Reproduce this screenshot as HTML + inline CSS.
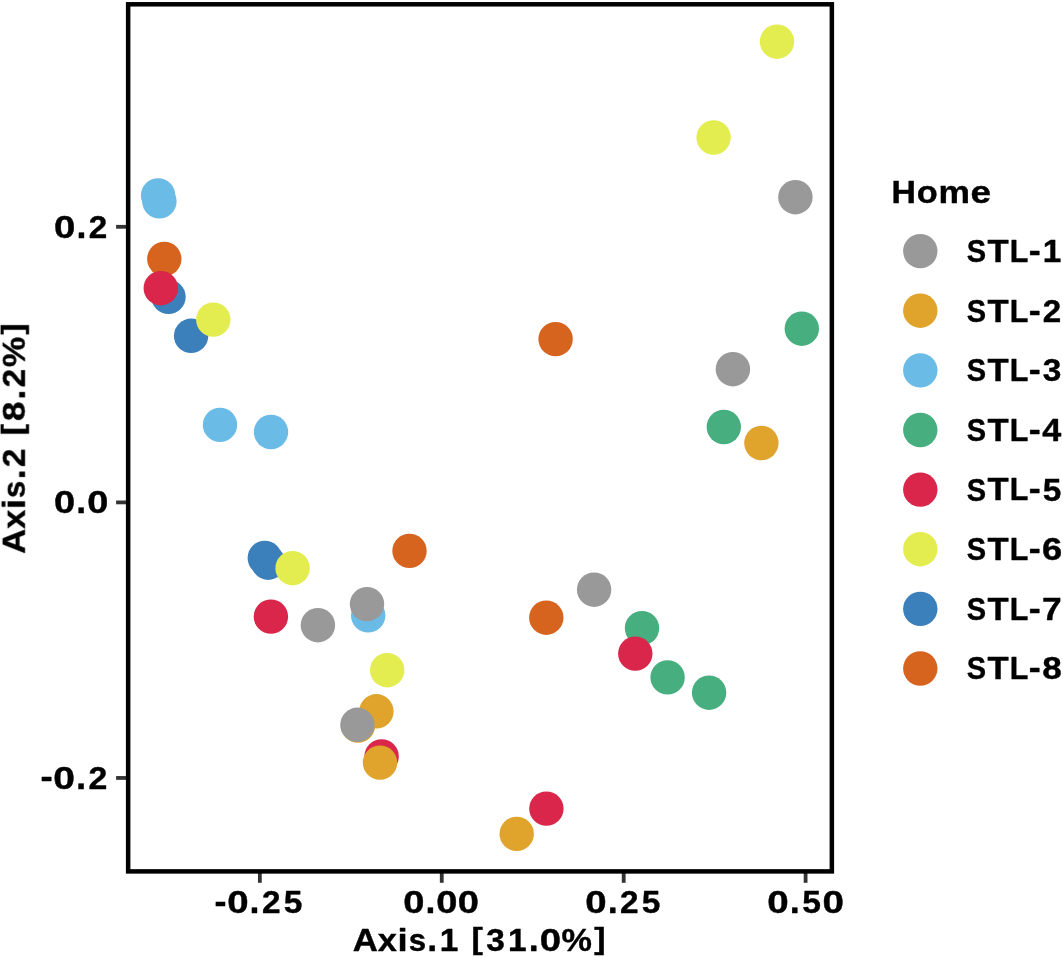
<!DOCTYPE html>
<html lang="en">
<head>
<meta charset="utf-8">
<title>PCoA by Home</title>
<style>
html,body{margin:0;padding:0;background:#fff;}
body{width:1063px;height:957px;overflow:hidden;}
svg{display:block;will-change:transform;}
text{font-family:"Liberation Sans",sans-serif;font-weight:bold;fill:#000;stroke:#000;stroke-width:0.4px;stroke-linejoin:round;}
.tick{stroke:#333;stroke-width:3.8;}
</style>
</head>
<body>
<svg width="1063" height="957" viewBox="0 0 1063 957">
<defs><filter id="soft" filterUnits="userSpaceOnUse" x="0" y="0" width="1063" height="957" color-interpolation-filters="sRGB"><feGaussianBlur stdDeviation="0.33"/></filter></defs>
<rect x="0" y="0" width="1063" height="957" fill="#fff"/>
<g filter="url(#soft)">
<rect x="-5" y="-5" width="1073" height="967" fill="#fff"/>

<g class="tick">
<line x1="259.85" y1="873" x2="259.85" y2="882.8"/>
<line x1="441.75" y1="873" x2="441.75" y2="882.8"/>
<line x1="623.70" y1="873" x2="623.70" y2="882.8"/>
<line x1="805.60" y1="873" x2="805.60" y2="882.8"/>
<line x1="116.1" y1="226.80" x2="126.5" y2="226.80"/>
<line x1="116.1" y1="502.40" x2="126.5" y2="502.40"/>
<line x1="116.1" y1="777.95" x2="126.5" y2="777.95"/>
</g>
<g>
<circle cx="158.1" cy="195.4" r="17.2" fill="#6BBBE7"/>
<circle cx="159.4" cy="201.4" r="17.2" fill="#6BBBE7"/>
<circle cx="164.3" cy="259.0" r="17.2" fill="#D7641E"/>
<circle cx="168.5" cy="296.8" r="17.2" fill="#3B7FBB"/>
<circle cx="160.8" cy="288.2" r="17.2" fill="#D9264A"/>
<circle cx="191.1" cy="335.8" r="17.2" fill="#3B7FBB"/>
<circle cx="213.3" cy="319.6" r="17.2" fill="#E4ED4F"/>
<circle cx="220.0" cy="424.9" r="17.2" fill="#6BBBE7"/>
<circle cx="271.0" cy="432.0" r="17.2" fill="#6BBBE7"/>
<circle cx="264.8" cy="557.9" r="17.2" fill="#3B7FBB"/>
<circle cx="268.2" cy="562.7" r="17.2" fill="#3B7FBB"/>
<circle cx="292.6" cy="568.2" r="17.2" fill="#E4ED4F"/>
<circle cx="270.9" cy="616.6" r="17.2" fill="#D9264A"/>
<circle cx="317.9" cy="625.2" r="17.2" fill="#999999"/>
<circle cx="368.2" cy="615.4" r="17.2" fill="#6BBBE7"/>
<circle cx="367.0" cy="604.1" r="17.2" fill="#999999"/>
<circle cx="409.5" cy="550.9" r="17.2" fill="#D7641E"/>
<circle cx="387.2" cy="670.2" r="17.2" fill="#E4ED4F"/>
<circle cx="376.4" cy="711.3" r="17.2" fill="#E0A32C"/>
<circle cx="358.0" cy="725.5" r="17.2" fill="#E0A32C"/>
<circle cx="357.4" cy="724.8" r="17.2" fill="#999999"/>
<circle cx="381.6" cy="756.4" r="17.2" fill="#D9264A"/>
<circle cx="380.0" cy="762.6" r="17.2" fill="#E0A32C"/>
<circle cx="516.7" cy="833.9" r="17.2" fill="#E0A32C"/>
<circle cx="546.4" cy="808.6" r="17.2" fill="#D9264A"/>
<circle cx="546.3" cy="617.7" r="17.2" fill="#D7641E"/>
<circle cx="594.1" cy="589.7" r="17.2" fill="#999999"/>
<circle cx="642.0" cy="628.1" r="17.2" fill="#47AF7F"/>
<circle cx="635.3" cy="653.6" r="17.2" fill="#D9264A"/>
<circle cx="667.6" cy="677.4" r="17.2" fill="#47AF7F"/>
<circle cx="709.1" cy="692.7" r="17.2" fill="#47AF7F"/>
<circle cx="555.6" cy="339.1" r="17.2" fill="#D7641E"/>
<circle cx="732.9" cy="369.2" r="17.2" fill="#999999"/>
<circle cx="723.8" cy="427.0" r="17.2" fill="#47AF7F"/>
<circle cx="761.4" cy="443.0" r="17.2" fill="#E0A32C"/>
<circle cx="801.8" cy="328.7" r="17.2" fill="#47AF7F"/>
<circle cx="795.4" cy="197.2" r="17.2" fill="#999999"/>
<circle cx="713.6" cy="137.5" r="17.2" fill="#E4ED4F"/>
<circle cx="777.0" cy="41.7" r="17.2" fill="#E4ED4F"/>
</g>
<rect x="128.15" y="4.3" width="703.7" height="867.1" fill="none" stroke="#000" stroke-width="4.5"/>
<text xml:space="preserve"><tspan x="214.59" y="912.68" font-size="32.90" textLength="11.99" lengthAdjust="spacingAndGlyphs">-</tspan><tspan x="227.19" y="912.82" font-size="31.91" textLength="21.36" lengthAdjust="spacingAndGlyphs">0</tspan><tspan x="249.60" y="912.70" font-size="35.89" textLength="9.98" lengthAdjust="spacingAndGlyphs">.</tspan><tspan x="261.99" y="912.70" font-size="31.74" textLength="18.57" lengthAdjust="spacingAndGlyphs">2</tspan><tspan x="283.70" y="912.82" font-size="31.81" textLength="18.64" lengthAdjust="spacingAndGlyphs">5</tspan></text>
<text xml:space="preserve"><tspan x="403.19" y="912.82" font-size="31.91" textLength="21.19" lengthAdjust="spacingAndGlyphs">0</tspan><tspan x="425.43" y="912.70" font-size="35.89" textLength="9.89" lengthAdjust="spacingAndGlyphs">.</tspan><tspan x="436.39" y="912.82" font-size="31.91" textLength="21.19" lengthAdjust="spacingAndGlyphs">0</tspan><tspan x="457.87" y="912.82" font-size="31.91" textLength="21.19" lengthAdjust="spacingAndGlyphs">0</tspan></text>
<text xml:space="preserve"><tspan x="585.38" y="912.82" font-size="31.91" textLength="21.34" lengthAdjust="spacingAndGlyphs">0</tspan><tspan x="607.77" y="912.70" font-size="35.89" textLength="9.97" lengthAdjust="spacingAndGlyphs">.</tspan><tspan x="620.13" y="912.70" font-size="31.74" textLength="18.55" lengthAdjust="spacingAndGlyphs">2</tspan><tspan x="641.82" y="912.82" font-size="31.81" textLength="18.61" lengthAdjust="spacingAndGlyphs">5</tspan></text>
<text xml:space="preserve"><tspan x="767.28" y="912.82" font-size="31.91" textLength="21.43" lengthAdjust="spacingAndGlyphs">0</tspan><tspan x="789.76" y="912.70" font-size="35.89" textLength="10.01" lengthAdjust="spacingAndGlyphs">.</tspan><tspan x="802.24" y="912.82" font-size="31.81" textLength="18.69" lengthAdjust="spacingAndGlyphs">5</tspan><tspan x="822.55" y="912.82" font-size="31.91" textLength="21.43" lengthAdjust="spacingAndGlyphs">0</tspan></text>
<text xml:space="preserve"><tspan x="54.09" y="237.62" font-size="31.91" textLength="21.27" lengthAdjust="spacingAndGlyphs">0</tspan><tspan x="76.41" y="237.50" font-size="35.89" textLength="9.93" lengthAdjust="spacingAndGlyphs">.</tspan><tspan x="88.74" y="237.50" font-size="31.74" textLength="18.50" lengthAdjust="spacingAndGlyphs">2</tspan></text>
<text xml:space="preserve"><tspan x="54.10" y="512.82" font-size="31.91" textLength="21.10" lengthAdjust="spacingAndGlyphs">0</tspan><tspan x="76.24" y="512.70" font-size="35.89" textLength="9.85" lengthAdjust="spacingAndGlyphs">.</tspan><tspan x="87.16" y="512.82" font-size="31.91" textLength="21.10" lengthAdjust="spacingAndGlyphs">0</tspan></text>
<text xml:space="preserve"><tspan x="40.57" y="788.48" font-size="32.90" textLength="12.16" lengthAdjust="spacingAndGlyphs">-</tspan><tspan x="53.35" y="788.62" font-size="31.91" textLength="21.66" lengthAdjust="spacingAndGlyphs">0</tspan><tspan x="76.06" y="788.50" font-size="35.89" textLength="10.13" lengthAdjust="spacingAndGlyphs">.</tspan><tspan x="88.62" y="788.50" font-size="31.74" textLength="18.84" lengthAdjust="spacingAndGlyphs">2</tspan></text>
<text xml:space="preserve"><tspan x="352.84" y="950.90" font-size="31.63" textLength="25.07" lengthAdjust="spacingAndGlyphs">A</tspan><tspan x="377.78" y="950.90" font-size="30.71" textLength="19.15" lengthAdjust="spacingAndGlyphs">x</tspan><tspan x="397.59" y="950.90" font-size="31.32" textLength="10.16" lengthAdjust="spacingAndGlyphs">i</tspan><tspan x="408.68" y="951.03" font-size="31.11" textLength="17.36" lengthAdjust="spacingAndGlyphs">s</tspan><tspan x="427.36" y="950.90" font-size="35.89" textLength="9.94" lengthAdjust="spacingAndGlyphs">.</tspan><tspan x="439.79" y="950.90" font-size="31.63" textLength="18.57" lengthAdjust="spacingAndGlyphs">1</tspan> <tspan x="471.52" y="948.96" font-size="28.65" textLength="11.33" lengthAdjust="spacingAndGlyphs">[</tspan><tspan x="486.24" y="950.97" font-size="31.84" textLength="18.61" lengthAdjust="spacingAndGlyphs">3</tspan><tspan x="507.90" y="950.90" font-size="31.63" textLength="18.57" lengthAdjust="spacingAndGlyphs">1</tspan><tspan x="528.82" y="950.90" font-size="35.89" textLength="9.94" lengthAdjust="spacingAndGlyphs">.</tspan><tspan x="539.83" y="951.02" font-size="31.91" textLength="21.29" lengthAdjust="spacingAndGlyphs">0</tspan><tspan x="561.58" y="951.08" font-size="32.11" textLength="30.44" lengthAdjust="spacingAndGlyphs">%</tspan><tspan x="594.18" y="948.96" font-size="28.65" textLength="11.33" lengthAdjust="spacingAndGlyphs">]</tspan></text>
<g transform="translate(24.8,553.1) rotate(-90)"><text xml:space="preserve"><tspan x="-0.66" y="-0.20" font-size="31.63" textLength="25.01" lengthAdjust="spacingAndGlyphs">A</tspan><tspan x="24.22" y="-0.20" font-size="30.71" textLength="19.10" lengthAdjust="spacingAndGlyphs">x</tspan><tspan x="43.99" y="-0.20" font-size="31.32" textLength="10.14" lengthAdjust="spacingAndGlyphs">i</tspan><tspan x="55.05" y="-0.07" font-size="31.11" textLength="17.32" lengthAdjust="spacingAndGlyphs">s</tspan><tspan x="73.69" y="-0.20" font-size="35.89" textLength="9.92" lengthAdjust="spacingAndGlyphs">.</tspan><tspan x="86.00" y="-0.20" font-size="31.74" textLength="18.47" lengthAdjust="spacingAndGlyphs">2</tspan> <tspan x="117.75" y="-2.14" font-size="28.65" textLength="11.30" lengthAdjust="spacingAndGlyphs">[</tspan><tspan x="131.91" y="-0.08" font-size="31.91" textLength="19.51" lengthAdjust="spacingAndGlyphs">8</tspan><tspan x="153.39" y="-0.20" font-size="35.89" textLength="9.92" lengthAdjust="spacingAndGlyphs">.</tspan><tspan x="165.70" y="-0.20" font-size="31.74" textLength="18.47" lengthAdjust="spacingAndGlyphs">2</tspan><tspan x="186.08" y="-0.02" font-size="32.11" textLength="30.36" lengthAdjust="spacingAndGlyphs">%</tspan><tspan x="218.61" y="-2.14" font-size="28.65" textLength="11.30" lengthAdjust="spacingAndGlyphs">]</tspan></text></g>
<text xml:space="preserve"><tspan x="891.43" y="202.50" font-size="31.63" textLength="24.46" lengthAdjust="spacingAndGlyphs">H</tspan><tspan x="916.86" y="202.63" font-size="31.13" textLength="20.97" lengthAdjust="spacingAndGlyphs">o</tspan><tspan x="938.47" y="202.50" font-size="30.87" textLength="31.48" lengthAdjust="spacingAndGlyphs">m</tspan><tspan x="970.51" y="202.63" font-size="31.13" textLength="20.55" lengthAdjust="spacingAndGlyphs">e</tspan></text>
<circle cx="920.3" cy="251.1" r="17.2" fill="#999999"/>
<text xml:space="preserve"><tspan x="966.86" y="262.02" font-size="31.91" textLength="19.36" lengthAdjust="spacingAndGlyphs">S</tspan><tspan x="987.52" y="261.90" font-size="31.63" textLength="21.14" lengthAdjust="spacingAndGlyphs">T</tspan><tspan x="1009.66" y="261.90" font-size="31.63" textLength="18.60" lengthAdjust="spacingAndGlyphs">L</tspan><tspan x="1028.84" y="261.88" font-size="32.90" textLength="11.91" lengthAdjust="spacingAndGlyphs">-</tspan><tspan x="1042.79" y="261.90" font-size="31.63" textLength="18.53" lengthAdjust="spacingAndGlyphs">1</tspan></text>
<circle cx="920.3" cy="310.7" r="17.2" fill="#E0A32C"/>
<text xml:space="preserve"><tspan x="966.86" y="321.65" font-size="31.91" textLength="19.36" lengthAdjust="spacingAndGlyphs">S</tspan><tspan x="987.52" y="321.53" font-size="31.63" textLength="21.14" lengthAdjust="spacingAndGlyphs">T</tspan><tspan x="1009.66" y="321.53" font-size="31.63" textLength="18.60" lengthAdjust="spacingAndGlyphs">L</tspan><tspan x="1028.84" y="321.51" font-size="32.90" textLength="11.91" lengthAdjust="spacingAndGlyphs">-</tspan><tspan x="1042.70" y="321.53" font-size="31.74" textLength="18.47" lengthAdjust="spacingAndGlyphs">2</tspan></text>
<circle cx="920.3" cy="370.4" r="17.2" fill="#6BBBE7"/>
<text xml:space="preserve"><tspan x="966.86" y="381.28" font-size="31.91" textLength="19.36" lengthAdjust="spacingAndGlyphs">S</tspan><tspan x="987.52" y="381.16" font-size="31.63" textLength="21.14" lengthAdjust="spacingAndGlyphs">T</tspan><tspan x="1009.66" y="381.16" font-size="31.63" textLength="18.60" lengthAdjust="spacingAndGlyphs">L</tspan><tspan x="1028.84" y="381.14" font-size="32.90" textLength="11.91" lengthAdjust="spacingAndGlyphs">-</tspan><tspan x="1042.70" y="381.23" font-size="31.84" textLength="18.56" lengthAdjust="spacingAndGlyphs">3</tspan></text>
<circle cx="920.3" cy="430.0" r="17.2" fill="#47AF7F"/>
<text xml:space="preserve"><tspan x="966.86" y="440.91" font-size="31.91" textLength="19.36" lengthAdjust="spacingAndGlyphs">S</tspan><tspan x="987.52" y="440.79" font-size="31.63" textLength="21.14" lengthAdjust="spacingAndGlyphs">T</tspan><tspan x="1009.66" y="440.79" font-size="31.63" textLength="18.60" lengthAdjust="spacingAndGlyphs">L</tspan><tspan x="1028.84" y="440.77" font-size="32.90" textLength="11.91" lengthAdjust="spacingAndGlyphs">-</tspan><tspan x="1042.27" y="440.79" font-size="31.63" textLength="19.01" lengthAdjust="spacingAndGlyphs">4</tspan></text>
<circle cx="920.3" cy="489.6" r="17.2" fill="#D9264A"/>
<text xml:space="preserve"><tspan x="966.86" y="500.54" font-size="31.91" textLength="19.36" lengthAdjust="spacingAndGlyphs">S</tspan><tspan x="987.52" y="500.42" font-size="31.63" textLength="21.14" lengthAdjust="spacingAndGlyphs">T</tspan><tspan x="1009.66" y="500.42" font-size="31.63" textLength="18.60" lengthAdjust="spacingAndGlyphs">L</tspan><tspan x="1028.84" y="500.40" font-size="32.90" textLength="11.91" lengthAdjust="spacingAndGlyphs">-</tspan><tspan x="1042.76" y="500.54" font-size="31.81" textLength="18.53" lengthAdjust="spacingAndGlyphs">5</tspan></text>
<circle cx="920.3" cy="549.2" r="17.2" fill="#E4ED4F"/>
<text xml:space="preserve"><tspan x="966.86" y="560.17" font-size="31.91" textLength="19.36" lengthAdjust="spacingAndGlyphs">S</tspan><tspan x="987.52" y="560.05" font-size="31.63" textLength="21.14" lengthAdjust="spacingAndGlyphs">T</tspan><tspan x="1009.66" y="560.05" font-size="31.63" textLength="18.60" lengthAdjust="spacingAndGlyphs">L</tspan><tspan x="1028.84" y="560.03" font-size="32.90" textLength="11.91" lengthAdjust="spacingAndGlyphs">-</tspan><tspan x="1041.99" y="560.17" font-size="31.87" textLength="20.18" lengthAdjust="spacingAndGlyphs">6</tspan></text>
<circle cx="920.3" cy="608.9" r="17.2" fill="#3B7FBB"/>
<text xml:space="preserve"><tspan x="966.86" y="619.80" font-size="31.91" textLength="19.36" lengthAdjust="spacingAndGlyphs">S</tspan><tspan x="987.52" y="619.68" font-size="31.63" textLength="21.14" lengthAdjust="spacingAndGlyphs">T</tspan><tspan x="1009.66" y="619.68" font-size="31.63" textLength="18.60" lengthAdjust="spacingAndGlyphs">L</tspan><tspan x="1028.84" y="619.66" font-size="32.90" textLength="11.91" lengthAdjust="spacingAndGlyphs">-</tspan><tspan x="1041.95" y="619.68" font-size="31.63" textLength="19.66" lengthAdjust="spacingAndGlyphs">7</tspan></text>
<circle cx="920.3" cy="668.5" r="17.2" fill="#D7641E"/>
<text xml:space="preserve"><tspan x="966.86" y="679.43" font-size="31.91" textLength="19.36" lengthAdjust="spacingAndGlyphs">S</tspan><tspan x="987.52" y="679.31" font-size="31.63" textLength="21.14" lengthAdjust="spacingAndGlyphs">T</tspan><tspan x="1009.66" y="679.31" font-size="31.63" textLength="18.60" lengthAdjust="spacingAndGlyphs">L</tspan><tspan x="1028.84" y="679.29" font-size="32.90" textLength="11.91" lengthAdjust="spacingAndGlyphs">-</tspan><tspan x="1042.18" y="679.43" font-size="31.91" textLength="19.51" lengthAdjust="spacingAndGlyphs">8</tspan></text>
</g>
</svg>
</body>
</html>
